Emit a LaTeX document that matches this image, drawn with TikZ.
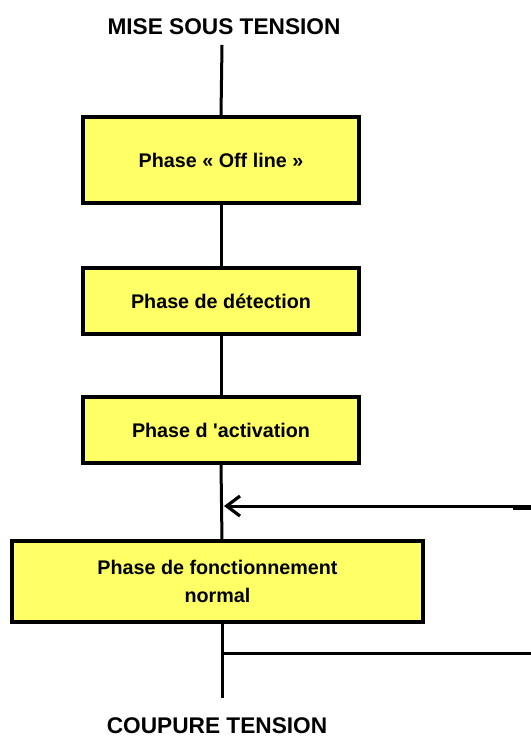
\documentclass[tikz,border=0pt]{standalone}
\usepackage{fontspec}
\setmainfont{Liberation Sans}
\usetikzlibrary{arrows.meta}
\definecolor{boxyellow}{RGB}{255,255,102}
\tikzset{
  phasebox/.style={draw=black, line width=3pt, fill=boxyellow, inner sep=0pt,
    font=\fontsize{14.8pt}{20.5pt}\selectfont\bfseries, align=center},
  title/.style={font=\fontsize{17pt}{20pt}\selectfont\bfseries, inner sep=0pt},
  link/.style={line width=2.25pt, draw=black},
}
\begin{document}
\begin{tikzpicture}[x=0.75pt, y=-0.75pt]
\useasboundingbox (0,0) rectangle (531,738);
% titles
\node[title] (top) at (224,27) {MISE SOUS TENSION};
\node[title] (bot) at (217,726) {COUPURE TENSION};
% boxes
\node[phasebox, minimum width=276*0.75pt, minimum height=86*0.75pt] (b1) at (221,160) {Phase « Off line »};
\node[phasebox, minimum width=276*0.75pt, minimum height=66*0.75pt] (b2) at (221,301) {Phase de détection};
\node[phasebox, minimum width=276*0.75pt, minimum height=66*0.75pt] (b3) at (221,430) {Phase d \textquotesingle activation};
\node[phasebox, minimum width=411*0.75pt, minimum height=81*0.75pt] (b4) at (217.5,581.5) {Phase de fonctionnement\\normal};
% coordinates
\coordinate (s0) at (222,45);
\coordinate (j1) at (222,506);
\coordinate (r1) at (531,506);
\coordinate (j2) at (222,653);
\coordinate (r2) at (531,653);
\coordinate (e0) at (222,698);
\coordinate (b4t) at (222,541);
\coordinate (b4b) at (222,622);
% connectors
\draw[link] (s0) -- (b1.north);
\draw[link] (b1.south) -- (b2.north);
\draw[link] (b2.south) -- (b3.north);
\draw[link] (b3.south) -- (b4t);
\draw[link] (b4b) -- (e0);
\draw[link] (j2) -- (r2);
\draw[link, -{Straight Barb[length=10pt, width=15pt, line width=2.4pt]}] (r1) -- ([xshift=1.5pt]j1);
\fill[black] (513,506) rectangle (531,509.5);
\end{tikzpicture}
\end{document}
